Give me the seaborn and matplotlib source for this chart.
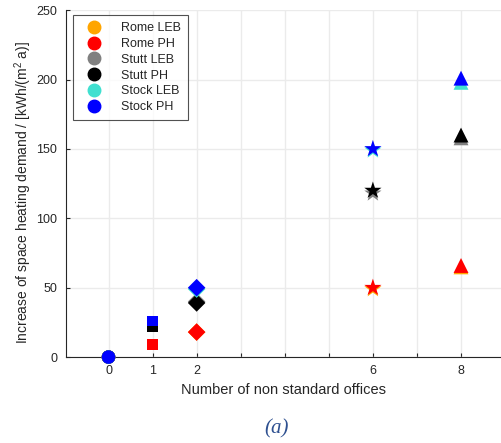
import matplotlib
matplotlib.use("Agg")
import matplotlib.pyplot as plt
from matplotlib.lines import Line2D
import pandas as pd
import seaborn as sns

# Offices count at which each scenario was evaluated
offices = [0, 1, 2, 6, 8]
tick_positions = [0, 1, 2, 3, 4, 5, 6, 7, 8]
tick_labels = ["0", "1", "2", "", "", "", "6", "", "8"]

# Increase of space heating demand, kWh/(m2 a), per climate/standard
series_names = ["Rome LEB", "Rome PH", "Stutt LEB", "Stutt PH", "Stock LEB", "Stock PH"]
rome_leb = [0, 9, 18, 49, 65]
rome_ph = [0, 9, 18, 50, 66]
stutt_leb = [0, 22, 40, 118, 158]
stutt_ph = [0, 22, 39, 120, 160]
stock_leb = [0, 26, 49, 149, 198]
stock_ph = [0, 26, 50, 150, 201]

series_colors = ["#FFA500", "#FF0000", "#808080", "#000000", "#40E0D0", "#0000FF"]
office_markers = {0: "o", 1: "s", 2: "D", 6: "*", 8: "^"}
office_sizes = {0: 95, 1: 62, 2: 80, 6: 170, 8: 115}

values = [rome_leb, rome_ph, stutt_leb, stutt_ph, stock_leb, stock_ph]
rows = []
for name, vals in zip(series_names, values):
    for x, v in zip(offices, vals):
        rows.append({"offices": x, "demand": v, "series": name})
df = pd.DataFrame(rows)

sns.set_theme(style="white")
plt.rcParams["font.family"] = ["Liberation Sans", "DejaVu Sans"]
plt.rcParams["mathtext.fontset"] = "custom"
plt.rcParams["mathtext.rm"] = "Liberation Sans"
plt.rcParams["mathtext.it"] = "Liberation Sans"

fig = plt.figure(figsize=(5.02, 4.43), dpi=100)
ax = fig.add_axes([0.131, 0.194, 0.869, 0.783])

sns.scatterplot(
    data=df, x="offices", y="demand",
    hue="series", hue_order=series_names, palette=series_colors,
    style="offices", markers=office_markers,
    size="offices", sizes=office_sizes,
    linewidth=0, legend=False, ax=ax, zorder=3, clip_on=False,
)

ax.set_xlim(-0.97, 8.93)
ax.set_ylim(0, 250)
ax.set_xticks(tick_positions)
ax.set_xticklabels(tick_labels)
ax.set_yticks([0, 50, 100, 150, 200, 250])

ax.grid(True, color="#EBEBEB", linewidth=1.0)
ax.set_axisbelow(True)
for side in ["top", "right"]:
    ax.spines[side].set_visible(False)
for side in ["left", "bottom"]:
    ax.spines[side].set_color("#262626")
    ax.spines[side].set_linewidth(0.8)
ax.tick_params(axis="both", direction="in", length=3, width=0.8,
               color="#262626", labelsize=9, labelcolor="#262626",
               bottom=True, left=True)
ax.tick_params(axis="x", pad=6)
ax.tick_params(axis="y", pad=6)

ax.set_xlabel("Number of non standard offices", fontsize=10.5, color="#262626", labelpad=4)
ax.set_ylabel(r"Increase of space heating demand / [kWh/(m$^{2}$ a)]",
              fontsize=10, color="#262626")
ax.yaxis.set_label_coords(-0.072, 0.475)

handles = [
    Line2D([], [], linestyle="none", marker="o", markersize=9,
           markerfacecolor=c, markeredgecolor=c, label=n)
    for n, c in zip(series_names, series_colors)
]
leg = ax.legend(handles=handles, loc="upper left", bbox_to_anchor=(0.016, 0.985),
                fontsize=9, frameon=True, fancybox=False, borderpad=0.55,
                labelspacing=0.3, handletextpad=1.0, handlelength=2.3,
                borderaxespad=0.0)
leg.get_frame().set_edgecolor("#262626")
leg.get_frame().set_linewidth(0.8)

fig.text(0.551, 0.031, "(a)", fontsize=15, style="italic", color="#2E5090",
         family=["Liberation Serif", "DejaVu Serif"], ha="center", va="center")

fig.savefig("out.png", dpi=100)
